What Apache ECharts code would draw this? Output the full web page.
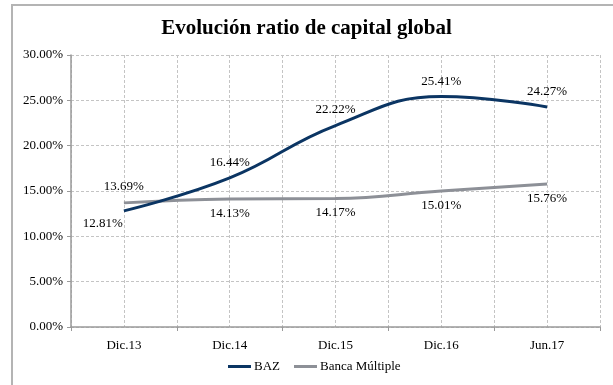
<!DOCTYPE html>
<html>
<head>
<meta charset="utf-8">
<script src="https://cdn.jsdelivr.net/npm/echarts@6/dist/echarts.min.js"></script>
<style>
html,body{margin:0;padding:0;background:#fff;}
#c{width:613px;height:385px;}
</style>
</head>
<body>
<div id="c"></div>
<script>
const categories = ['Dic.13', 'Dic.14', 'Dic.15', 'Dic.16', 'Jun.17'];
const bazValues = [12.81, 16.44, 22.22, 25.41, 24.27];
const bancaValues = [13.69, 14.13, 14.17, 15.01, 15.76];
const titleText = 'Evolución ratio de capital global';
const seriesNames = ['BAZ', 'Banca Múltiple'];

const FONT = '"Liberation Serif", "Times New Roman", serif';
const chart = echarts.init(document.getElementById('c'), null, {renderer: 'canvas'});
const halfCats = [];
for (let i = 0; i < categories.length * 2; i++) halfCats.push(String(i));

chart.setOption({
  animation: false,
  backgroundColor: '#fff',
  title: {
    text: titleText,
    left: 'center',
    top: 13,
    textStyle: {fontFamily: FONT, fontSize: 21, fontWeight: 'bold', color: '#000'}
  },
  graphic: [{
    type: 'rect',
    shape: {x: 12, y: 5, width: 700, height: 500},
    style: {fill: 'none', stroke: '#b4b4b4', lineWidth: 2},
    silent: true
  }],
  legend: {
    bottom: 7,
    left: 223,
    itemWidth: 23,
    itemHeight: 3,
    itemGap: 14,
    icon: 'rect',
    textStyle: {fontFamily: FONT, fontSize: 13, color: '#000', padding: [0, 0, 0, -2]},
    data: seriesNames
  },
  grid: {left: 71, right: 13, top: 55, bottom: 58},
  xAxis: [{
    type: 'category',
    data: categories,
    boundaryGap: true,
    axisLine: {lineStyle: {color: '#9a9a9a', width: 1.5}},
    axisTick: {show: true, length: 4, lineStyle: {color: '#9a9a9a'}},
    axisLabel: {fontFamily: FONT, fontSize: 13, color: '#000', margin: 12},
    splitLine: {show: false}
  }, {
    type: 'category',
    data: halfCats,
    boundaryGap: true,
    position: 'bottom',
    axisLine: {show: false},
    axisTick: {show: false},
    axisLabel: {show: false},
    splitLine: {show: true, lineStyle: {type: [3, 2], color: '#c4c4c4', width: 1}}
  }],
  yAxis: {
    type: 'value',
    min: 0,
    max: 30,
    interval: 5,
    axisLine: {show: true, lineStyle: {color: '#9a9a9a', width: 1.5}},
    axisTick: {show: true, length: 4, lineStyle: {color: '#9a9a9a'}},
    axisLabel: {fontFamily: FONT, fontSize: 13, color: '#000', margin: 8,
      formatter: v => v.toFixed(2) + '%'},
    splitLine: {show: true, lineStyle: {type: [3, 2], color: '#c4c4c4', width: 1}}
  },
  series: [{
    name: seriesNames[0],
    type: 'line',
    data: bazValues,
    smooth: 0.45,
    symbol: 'circle',
    symbolSize: 0.01,
    showSymbol: true,
    z: 3,
    lineStyle: {color: '#0b3563', width: 3},
    itemStyle: {color: '#0b3563'},
    label: {
      show: true,
      position: 'top',
      distance: 9,
      fontFamily: FONT, fontSize: 13, color: '#000',
      formatter: p => p.value.toFixed(2) + '%'
    },
    labelLayout: function (params) {
      if (params.dataIndex === 0) {
        return {x: params.labelRect.x - 21, y: params.labelRect.y + 28};
      }
      return {};
    }
  }, {
    name: seriesNames[1],
    type: 'line',
    data: bancaValues,
    smooth: 0.45,
    symbol: 'circle',
    symbolSize: 0.01,
    showSymbol: true,
    z: 2,
    lineStyle: {color: '#8d9097', width: 3},
    itemStyle: {color: '#8d9097'},
    label: {
      show: true,
      position: 'bottom',
      distance: 8,
      fontFamily: FONT, fontSize: 13, color: '#000',
      formatter: p => p.value.toFixed(2) + '%'
    },
    labelLayout: function (params) {
      if (params.dataIndex === 0) {
        return {x: params.labelRect.x, y: params.labelRect.y - 31};
      }
      return {};
    }
  }]
});
</script>
</body>
</html>
